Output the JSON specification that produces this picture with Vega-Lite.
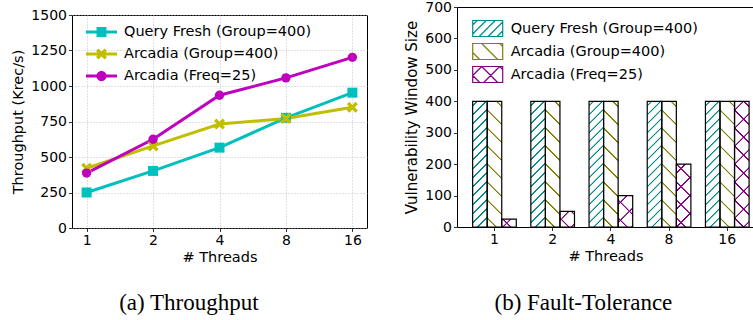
{
  "$schema": "https://vega.github.io/schema/vega-lite/v6.json",
  "padding": {"left": 10, "top": -1, "right": 0, "bottom": 0},
  "config": {
    "font": "DejaVu Sans",
    "view": {"stroke": "#000", "strokeWidth": 1},
    "axis": {"labelFont": "DejaVu Sans", "titleFont": "DejaVu Sans", "labelColor": "#000", "titleColor": "#000", "tickColor": "#000", "domainColor": "#000", "labelFontSize": 14, "titleFontSize": 14.5, "titleFontWeight": "normal", "tickSize": 3.5, "tickWidth": 0.8, "domain": false, "labelPadding": 2},
    "legend": {"labelFont": "DejaVu Sans", "labelFontSize": 14.5, "labelColor": "#000", "labelLimit": 400, "padding": 0, "rowPadding": 2}
  },
  "datasets": {
    "tp": [
      {"series": "Query Fresh (Group=400)", "threads": "1", "value": 250},
      {"series": "Query Fresh (Group=400)", "threads": "2", "value": 402},
      {"series": "Query Fresh (Group=400)", "threads": "4", "value": 566},
      {"series": "Query Fresh (Group=400)", "threads": "8", "value": 776},
      {"series": "Query Fresh (Group=400)", "threads": "16", "value": 953},
      {"series": "Arcadia (Group=400)", "threads": "1", "value": 421},
      {"series": "Arcadia (Group=400)", "threads": "2", "value": 578},
      {"series": "Arcadia (Group=400)", "threads": "4", "value": 732},
      {"series": "Arcadia (Group=400)", "threads": "8", "value": 771},
      {"series": "Arcadia (Group=400)", "threads": "16", "value": 850},
      {"series": "Arcadia (Freq=25)", "threads": "1", "value": 387},
      {"series": "Arcadia (Freq=25)", "threads": "2", "value": 625},
      {"series": "Arcadia (Freq=25)", "threads": "4", "value": 935},
      {"series": "Arcadia (Freq=25)", "threads": "8", "value": 1057},
      {"series": "Arcadia (Freq=25)", "threads": "16", "value": 1202}
    ],
    "vw": [
      {"series": "Query Fresh (Group=400)", "threads": "1", "value": 400},
      {"series": "Arcadia (Group=400)", "threads": "1", "value": 400},
      {"series": "Arcadia (Freq=25)", "threads": "1", "value": 25},
      {"series": "Query Fresh (Group=400)", "threads": "2", "value": 400},
      {"series": "Arcadia (Group=400)", "threads": "2", "value": 400},
      {"series": "Arcadia (Freq=25)", "threads": "2", "value": 50},
      {"series": "Query Fresh (Group=400)", "threads": "4", "value": 400},
      {"series": "Arcadia (Group=400)", "threads": "4", "value": 400},
      {"series": "Arcadia (Freq=25)", "threads": "4", "value": 100},
      {"series": "Query Fresh (Group=400)", "threads": "8", "value": 400},
      {"series": "Arcadia (Group=400)", "threads": "8", "value": 400},
      {"series": "Arcadia (Freq=25)", "threads": "8", "value": 200},
      {"series": "Query Fresh (Group=400)", "threads": "16", "value": 400},
      {"series": "Arcadia (Group=400)", "threads": "16", "value": 400},
      {"series": "Arcadia (Freq=25)", "threads": "16", "value": 400}
    ]
  },
  "columns": 2,
  "align": "none",
  "spacing": 36,
  "resolve": {"scale": {"color": "independent", "shape": "independent"}, "legend": {"color": "independent", "shape": "independent"}},
  "concat": [
    {
      "title": {"text": "(a) Throughput", "orient": "bottom", "anchor": "middle", "frame": "bounds", "font": "Liberation Serif", "fontSize": 23, "fontWeight": "normal", "color": "#000", "offset": 27},
      "spacing": -1,
      "vconcat": [
        {
          "width": 295,
          "height": 0.01,
          "view": {"stroke": null},
          "data": {"values": []},
          "mark": {"type": "point", "opacity": 0},
          "encoding": {}
        },
        {
          "width": 295,
          "height": 213,
          "data": {"name": "tp"},
          "encoding": {
            "x": {"field": "threads", "type": "nominal", "sort": ["1", "2", "4", "8", "16"], "scale": {"type": "point", "padding": 0.22}, "axis": {"title": "# Threads", "labelAngle": 0, "grid": true, "gridDash": [1, 2], "gridColor": "#b0b0b0", "gridWidth": 0.8, "titlePadding": 3}},
            "y": {"field": "value", "type": "quantitative", "scale": {"domain": [0, 1500], "nice": false}, "axis": {"title": "Throughput (Krec/s)", "format": "d", "values": [0, 250, 500, 750, 1000, 1250, 1500], "grid": true, "gridDash": [1, 2], "gridColor": "#b0b0b0", "gridWidth": 0.8, "titlePadding": 5}},
            "color": {"field": "series", "type": "nominal", "scale": {"domain": ["Query Fresh (Group=400)", "Arcadia (Group=400)", "Arcadia (Freq=25)"], "range": ["#00bfbf", "#bfbf00", "#bf00bf"]},
              "legend": {"title": null, "orient": "none", "legendX": 14, "legendY": 9.5, "labelOffset": 7, "rowPadding": -2, "symbolSize": 961, "symbolStrokeWidth": 0, "symbolOpacity": 1}}
          },
          "layer": [
            {"transform": [{"filter": "false"}],
             "mark": {"type": "point", "filled": true, "opacity": 1, "size": 961, "strokeWidth": 0},
             "encoding": {
               "shape": {"field": "series", "type": "nominal", "scale": {"domain": ["Query Fresh (Group=400)", "Arcadia (Group=400)", "Arcadia (Freq=25)"], "range": [
                 "M-1,-0.097H1V0.097H-1Z M-0.32,-0.32H0.32V0.32H-0.32Z",
                 "M-1,-0.097H1V0.097H-1Z M-0.2,0.355L-0.355,0.2L-0.155,0L-0.355,-0.2L-0.2,-0.355L0,-0.155L0.2,-0.355L0.355,-0.2L0.155,0L0.355,0.2L0.2,0.355L0,0.155Z",
                 "M-1,-0.097H1V0.097H-1Z M-0.33,0A0.33,0.33,0,1,1,0.33,0A0.33,0.33,0,1,1,-0.33,0Z"]},
                 "legend": {"title": null, "orient": "none", "legendX": 14, "legendY": 9.5, "labelOffset": 7, "rowPadding": -2, "symbolSize": 961, "symbolStrokeWidth": 0, "symbolOpacity": 1}}
             }},
            {"mark": {"type": "line", "strokeWidth": 3}},
            {"transform": [{"filter": "datum.series == 'Query Fresh (Group=400)'"}],
             "mark": {"type": "point", "filled": true, "opacity": 1, "shape": "square", "size": 100}},
            {"transform": [{"filter": "datum.series == 'Arcadia (Group=400)'"}],
             "mark": {"type": "point", "filled": true, "opacity": 1, "size": 148, "shape": "M-0.509,0.905L0,0.396L0.509,0.905L0.905,0.509L0.396,0L0.905,-0.509L0.509,-0.905L0,-0.396L-0.509,-0.905L-0.905,-0.509L-0.396,0L-0.905,0.509Z"}},
            {"transform": [{"filter": "datum.series == 'Arcadia (Freq=25)'"}],
             "mark": {"type": "point", "filled": true, "opacity": 1, "shape": "circle", "size": 87}}
          ]
        }
      ]
    },
    {
      "width": 297,
      "height": 220,
      "title": {"text": "(b) Fault-Tolerance", "orient": "bottom", "anchor": "middle", "frame": "bounds", "font": "Liberation Serif", "fontSize": 23, "fontWeight": "normal", "color": "#000", "offset": 29, "dx": 4},
      "data": {"name": "vw"},
      "encoding": {
        "x": {"field": "threads", "type": "nominal", "sort": ["1", "2", "4", "8", "16"], "scale": {"type": "band", "paddingInner": 0.25, "paddingOuter": 0.1766, "align": 0.761, "round": false}, "axis": {"title": "# Threads", "labelAngle": 0, "grid": false, "titlePadding": 3}},
        "xOffset": {"field": "series", "type": "nominal", "sort": ["Query Fresh (Group=400)", "Arcadia (Group=400)", "Arcadia (Freq=25)"], "scale": {"paddingInner": 0, "paddingOuter": 0}},
        "y": {"field": "value", "type": "quantitative", "scale": {"domain": [0, 700], "nice": false}, "axis": {"title": "Vulnerability Window Size", "values": [0, 100, 200, 300, 400, 500, 600, 700], "grid": false, "titleFontSize": 15, "titlePadding": 5}}
      },
      "layer": [
        {"mark": {"type": "bar", "fill": "#fff", "strokeWidth": 0}},
        {"transform": [{"filter": "datum.series == 'Query Fresh (Group=400)'"}],
         "mark": {"type": "bar", "strokeWidth": 0, "fill": {"gradient": "linear", "x1": 0, "y1": 0, "x2": 0.12743, "y2": 1.10097, "stops": [
           {"offset": 0.02210, "color": "rgba(255,255,255,0)"}, {"offset": 0.02781, "color": "#008b8b"}, {"offset": 0.03636, "color": "#008b8b"}, {"offset": 0.04206, "color": "rgba(255,255,255,0)"},
           {"offset": 0.08627, "color": "rgba(255,255,255,0)"}, {"offset": 0.09197, "color": "#008b8b"}, {"offset": 0.10053, "color": "#008b8b"}, {"offset": 0.10623, "color": "rgba(255,255,255,0)"},
           {"offset": 0.15043, "color": "rgba(255,255,255,0)"}, {"offset": 0.15614, "color": "#008b8b"}, {"offset": 0.16469, "color": "#008b8b"}, {"offset": 0.17040, "color": "rgba(255,255,255,0)"},
           {"offset": 0.21460, "color": "rgba(255,255,255,0)"}, {"offset": 0.22030, "color": "#008b8b"}, {"offset": 0.22886, "color": "#008b8b"}, {"offset": 0.23456, "color": "rgba(255,255,255,0)"},
           {"offset": 0.27877, "color": "rgba(255,255,255,0)"}, {"offset": 0.28447, "color": "#008b8b"}, {"offset": 0.29303, "color": "#008b8b"}, {"offset": 0.29873, "color": "rgba(255,255,255,0)"},
           {"offset": 0.34293, "color": "rgba(255,255,255,0)"}, {"offset": 0.34864, "color": "#008b8b"}, {"offset": 0.35719, "color": "#008b8b"}, {"offset": 0.36290, "color": "rgba(255,255,255,0)"},
           {"offset": 0.40710, "color": "rgba(255,255,255,0)"}, {"offset": 0.41280, "color": "#008b8b"}, {"offset": 0.42136, "color": "#008b8b"}, {"offset": 0.42706, "color": "rgba(255,255,255,0)"},
           {"offset": 0.47127, "color": "rgba(255,255,255,0)"}, {"offset": 0.47697, "color": "#008b8b"}, {"offset": 0.48553, "color": "#008b8b"}, {"offset": 0.49123, "color": "rgba(255,255,255,0)"},
           {"offset": 0.53543, "color": "rgba(255,255,255,0)"}, {"offset": 0.54114, "color": "#008b8b"}, {"offset": 0.54969, "color": "#008b8b"}, {"offset": 0.55540, "color": "rgba(255,255,255,0)"},
           {"offset": 0.59960, "color": "rgba(255,255,255,0)"}, {"offset": 0.60530, "color": "#008b8b"}, {"offset": 0.61386, "color": "#008b8b"}, {"offset": 0.61956, "color": "rgba(255,255,255,0)"},
           {"offset": 0.66377, "color": "rgba(255,255,255,0)"}, {"offset": 0.66947, "color": "#008b8b"}, {"offset": 0.67803, "color": "#008b8b"}, {"offset": 0.68373, "color": "rgba(255,255,255,0)"},
           {"offset": 0.72793, "color": "rgba(255,255,255,0)"}, {"offset": 0.73364, "color": "#008b8b"}, {"offset": 0.74219, "color": "#008b8b"}, {"offset": 0.74790, "color": "rgba(255,255,255,0)"},
           {"offset": 0.79210, "color": "rgba(255,255,255,0)"}, {"offset": 0.79780, "color": "#008b8b"}, {"offset": 0.80636, "color": "#008b8b"}, {"offset": 0.81206, "color": "rgba(255,255,255,0)"},
           {"offset": 0.85627, "color": "rgba(255,255,255,0)"}, {"offset": 0.86197, "color": "#008b8b"}, {"offset": 0.87053, "color": "#008b8b"}, {"offset": 0.87623, "color": "rgba(255,255,255,0)"},
           {"offset": 0.92043, "color": "rgba(255,255,255,0)"}, {"offset": 0.92614, "color": "#008b8b"}, {"offset": 0.93469, "color": "#008b8b"}, {"offset": 0.94039, "color": "rgba(255,255,255,0)"},
           {"offset": 0.98460, "color": "rgba(255,255,255,0)"}, {"offset": 0.99030, "color": "#008b8b"}, {"offset": 1, "color": "#008b8b"}
         ]}}},
        {"transform": [{"filter": "datum.series == 'Arcadia (Group=400)'"}],
         "mark": {"type": "bar", "strokeWidth": 0, "fill": {"gradient": "linear", "x1": 0, "y1": 1, "x2": 0.12743, "y2": -0.10097, "stops": [
           {"offset": 0.05418, "color": "rgba(255,255,255,0)"}, {"offset": 0.05989, "color": "#808000"}, {"offset": 0.06844, "color": "#808000"}, {"offset": 0.07415, "color": "rgba(255,255,255,0)"},
           {"offset": 0.18252, "color": "rgba(255,255,255,0)"}, {"offset": 0.18822, "color": "#808000"}, {"offset": 0.19678, "color": "#808000"}, {"offset": 0.20248, "color": "rgba(255,255,255,0)"},
           {"offset": 0.31085, "color": "rgba(255,255,255,0)"}, {"offset": 0.31655, "color": "#808000"}, {"offset": 0.32511, "color": "#808000"}, {"offset": 0.33081, "color": "rgba(255,255,255,0)"},
           {"offset": 0.43918, "color": "rgba(255,255,255,0)"}, {"offset": 0.44489, "color": "#808000"}, {"offset": 0.45344, "color": "#808000"}, {"offset": 0.45915, "color": "rgba(255,255,255,0)"},
           {"offset": 0.56752, "color": "rgba(255,255,255,0)"}, {"offset": 0.57322, "color": "#808000"}, {"offset": 0.58178, "color": "#808000"}, {"offset": 0.58748, "color": "rgba(255,255,255,0)"},
           {"offset": 0.69585, "color": "rgba(255,255,255,0)"}, {"offset": 0.70155, "color": "#808000"}, {"offset": 0.71011, "color": "#808000"}, {"offset": 0.71581, "color": "rgba(255,255,255,0)"},
           {"offset": 0.82418, "color": "rgba(255,255,255,0)"}, {"offset": 0.82989, "color": "#808000"}, {"offset": 0.83844, "color": "#808000"}, {"offset": 0.84415, "color": "rgba(255,255,255,0)"},
           {"offset": 0.95251, "color": "rgba(255,255,255,0)"}, {"offset": 0.95822, "color": "#808000"}, {"offset": 0.96677, "color": "#808000"}, {"offset": 0.97248, "color": "rgba(255,255,255,0)"}
         ]}}},
        {"transform": [{"filter": "datum.series == 'Arcadia (Freq=25)' && datum.threads == '16'"}],
         "mark": {"type": "bar", "strokeWidth": 0, "fill": {"gradient": "linear", "x1": 0, "y1": 0, "x2": 0.12743, "y2": 1.10097, "stops": [
           {"offset": 0.05418, "color": "rgba(255,255,255,0)"}, {"offset": 0.05989, "color": "#800080"}, {"offset": 0.06844, "color": "#800080"}, {"offset": 0.07415, "color": "rgba(255,255,255,0)"},
           {"offset": 0.18252, "color": "rgba(255,255,255,0)"}, {"offset": 0.18822, "color": "#800080"}, {"offset": 0.19678, "color": "#800080"}, {"offset": 0.20248, "color": "rgba(255,255,255,0)"},
           {"offset": 0.31085, "color": "rgba(255,255,255,0)"}, {"offset": 0.31655, "color": "#800080"}, {"offset": 0.32511, "color": "#800080"}, {"offset": 0.33081, "color": "rgba(255,255,255,0)"},
           {"offset": 0.43918, "color": "rgba(255,255,255,0)"}, {"offset": 0.44489, "color": "#800080"}, {"offset": 0.45344, "color": "#800080"}, {"offset": 0.45915, "color": "rgba(255,255,255,0)"},
           {"offset": 0.56752, "color": "rgba(255,255,255,0)"}, {"offset": 0.57322, "color": "#800080"}, {"offset": 0.58178, "color": "#800080"}, {"offset": 0.58748, "color": "rgba(255,255,255,0)"},
           {"offset": 0.69585, "color": "rgba(255,255,255,0)"}, {"offset": 0.70155, "color": "#800080"}, {"offset": 0.71011, "color": "#800080"}, {"offset": 0.71581, "color": "rgba(255,255,255,0)"},
           {"offset": 0.82418, "color": "rgba(255,255,255,0)"}, {"offset": 0.82989, "color": "#800080"}, {"offset": 0.83844, "color": "#800080"}, {"offset": 0.84415, "color": "rgba(255,255,255,0)"},
           {"offset": 0.95251, "color": "rgba(255,255,255,0)"}, {"offset": 0.95822, "color": "#800080"}, {"offset": 0.96677, "color": "#800080"}, {"offset": 0.97248, "color": "rgba(255,255,255,0)"}
         ]}}},
        {"transform": [{"filter": "datum.series == 'Arcadia (Freq=25)' && datum.threads == '16'"}],
         "mark": {"type": "bar", "strokeWidth": 0, "fill": {"gradient": "linear", "x1": 0, "y1": 1, "x2": 0.12743, "y2": -0.10097, "stops": [
           {"offset": 0.05418, "color": "rgba(255,255,255,0)"}, {"offset": 0.05989, "color": "#800080"}, {"offset": 0.06844, "color": "#800080"}, {"offset": 0.07415, "color": "rgba(255,255,255,0)"},
           {"offset": 0.18252, "color": "rgba(255,255,255,0)"}, {"offset": 0.18822, "color": "#800080"}, {"offset": 0.19678, "color": "#800080"}, {"offset": 0.20248, "color": "rgba(255,255,255,0)"},
           {"offset": 0.31085, "color": "rgba(255,255,255,0)"}, {"offset": 0.31655, "color": "#800080"}, {"offset": 0.32511, "color": "#800080"}, {"offset": 0.33081, "color": "rgba(255,255,255,0)"},
           {"offset": 0.43918, "color": "rgba(255,255,255,0)"}, {"offset": 0.44489, "color": "#800080"}, {"offset": 0.45344, "color": "#800080"}, {"offset": 0.45915, "color": "rgba(255,255,255,0)"},
           {"offset": 0.56752, "color": "rgba(255,255,255,0)"}, {"offset": 0.57322, "color": "#800080"}, {"offset": 0.58178, "color": "#800080"}, {"offset": 0.58748, "color": "rgba(255,255,255,0)"},
           {"offset": 0.69585, "color": "rgba(255,255,255,0)"}, {"offset": 0.70155, "color": "#800080"}, {"offset": 0.71011, "color": "#800080"}, {"offset": 0.71581, "color": "rgba(255,255,255,0)"},
           {"offset": 0.82418, "color": "rgba(255,255,255,0)"}, {"offset": 0.82989, "color": "#800080"}, {"offset": 0.83844, "color": "#800080"}, {"offset": 0.84415, "color": "rgba(255,255,255,0)"},
           {"offset": 0.95251, "color": "rgba(255,255,255,0)"}, {"offset": 0.95822, "color": "#800080"}, {"offset": 0.96677, "color": "#800080"}, {"offset": 0.97248, "color": "rgba(255,255,255,0)"}
         ]}}},
        {"transform": [{"filter": "datum.series == 'Arcadia (Freq=25)' && datum.threads == '8'"}],
         "mark": {"type": "bar", "strokeWidth": 0, "fill": {"gradient": "linear", "x1": 0, "y1": 0, "x2": 0.27054, "y2": 1.16882, "stops": [
           {"offset": 0.09818, "color": "rgba(255,255,255,0)"}, {"offset": 0.10851, "color": "#800080"}, {"offset": 0.12401, "color": "#800080"}, {"offset": 0.13435, "color": "rgba(255,255,255,0)"},
           {"offset": 0.33070, "color": "rgba(255,255,255,0)"}, {"offset": 0.34104, "color": "#800080"}, {"offset": 0.35654, "color": "#800080"}, {"offset": 0.36687, "color": "rgba(255,255,255,0)"},
           {"offset": 0.56323, "color": "rgba(255,255,255,0)"}, {"offset": 0.57356, "color": "#800080"}, {"offset": 0.58906, "color": "#800080"}, {"offset": 0.59940, "color": "rgba(255,255,255,0)"},
           {"offset": 0.79575, "color": "rgba(255,255,255,0)"}, {"offset": 0.80609, "color": "#800080"}, {"offset": 0.82159, "color": "#800080"}, {"offset": 0.83193, "color": "rgba(255,255,255,0)"}
         ]}}},
        {"transform": [{"filter": "datum.series == 'Arcadia (Freq=25)' && datum.threads == '8'"}],
         "mark": {"type": "bar", "strokeWidth": 0, "fill": {"gradient": "linear", "x1": 0, "y1": 1, "x2": 0.27054, "y2": -0.16882, "stops": [
           {"offset": 0.09818, "color": "rgba(255,255,255,0)"}, {"offset": 0.10851, "color": "#800080"}, {"offset": 0.12401, "color": "#800080"}, {"offset": 0.13435, "color": "rgba(255,255,255,0)"},
           {"offset": 0.33070, "color": "rgba(255,255,255,0)"}, {"offset": 0.34104, "color": "#800080"}, {"offset": 0.35654, "color": "#800080"}, {"offset": 0.36687, "color": "rgba(255,255,255,0)"},
           {"offset": 0.56323, "color": "rgba(255,255,255,0)"}, {"offset": 0.57356, "color": "#800080"}, {"offset": 0.58906, "color": "#800080"}, {"offset": 0.59940, "color": "rgba(255,255,255,0)"},
           {"offset": 0.79575, "color": "rgba(255,255,255,0)"}, {"offset": 0.80609, "color": "#800080"}, {"offset": 0.82159, "color": "#800080"}, {"offset": 0.83193, "color": "rgba(255,255,255,0)"}
         ]}}},
        {"transform": [{"filter": "datum.series == 'Arcadia (Freq=25)' && datum.threads == '4'"}],
         "mark": {"type": "bar", "strokeWidth": 0, "fill": {"gradient": "linear", "x1": 0, "y1": 0, "x2": 0.55774, "y2": 1.20480, "stops": [
           {"offset": 0.16529, "color": "rgba(255,255,255,0)"}, {"offset": 0.18269, "color": "#800080"}, {"offset": 0.20879, "color": "#800080"}, {"offset": 0.22619, "color": "rgba(255,255,255,0)"},
           {"offset": 0.55677, "color": "rgba(255,255,255,0)"}, {"offset": 0.57417, "color": "#800080"}, {"offset": 0.60027, "color": "#800080"}, {"offset": 0.61767, "color": "rgba(255,255,255,0)"},
           {"offset": 0.94824, "color": "rgba(255,255,255,0)"}, {"offset": 0.96564, "color": "#800080"}, {"offset": 1, "color": "#800080"}
         ]}}},
        {"transform": [{"filter": "datum.series == 'Arcadia (Freq=25)' && datum.threads == '4'"}],
         "mark": {"type": "bar", "strokeWidth": 0, "fill": {"gradient": "linear", "x1": 0, "y1": 1, "x2": 0.55774, "y2": -0.20480, "stops": [
           {"offset": 0.16529, "color": "rgba(255,255,255,0)"}, {"offset": 0.18269, "color": "#800080"}, {"offset": 0.20879, "color": "#800080"}, {"offset": 0.22619, "color": "rgba(255,255,255,0)"},
           {"offset": 0.55677, "color": "rgba(255,255,255,0)"}, {"offset": 0.57417, "color": "#800080"}, {"offset": 0.60027, "color": "#800080"}, {"offset": 0.61767, "color": "rgba(255,255,255,0)"},
           {"offset": 0.94824, "color": "rgba(255,255,255,0)"}, {"offset": 0.96564, "color": "#800080"}, {"offset": 1, "color": "#800080"}
         ]}}},
        {"transform": [{"filter": "datum.series == 'Arcadia (Freq=25)' && datum.threads == '2'"}],
         "mark": {"type": "bar", "strokeWidth": 0, "fill": {"gradient": "linear", "x1": 0, "y1": 0, "x2": 0.96027, "y2": 1.03683, "stops": [
           {"offset": 0.25116, "color": "rgba(255,255,255,0)"}, {"offset": 0.27759, "color": "#800080"}, {"offset": 0.31725, "color": "#800080"}, {"offset": 0.34369, "color": "rgba(255,255,255,0)"},
           {"offset": 0.84600, "color": "rgba(255,255,255,0)"}, {"offset": 0.87244, "color": "#800080"}, {"offset": 0.91210, "color": "#800080"}, {"offset": 0.93853, "color": "rgba(255,255,255,0)"}
         ]}}},
        {"transform": [{"filter": "datum.series == 'Arcadia (Freq=25)' && datum.threads == '2'"}],
         "mark": {"type": "bar", "strokeWidth": 0, "fill": {"gradient": "linear", "x1": 0, "y1": 1, "x2": 0.96027, "y2": -0.03683, "stops": [
           {"offset": 0.25116, "color": "rgba(255,255,255,0)"}, {"offset": 0.27759, "color": "#800080"}, {"offset": 0.31725, "color": "#800080"}, {"offset": 0.34369, "color": "rgba(255,255,255,0)"},
           {"offset": 0.84600, "color": "rgba(255,255,255,0)"}, {"offset": 0.87244, "color": "#800080"}, {"offset": 0.91210, "color": "#800080"}, {"offset": 0.93853, "color": "rgba(255,255,255,0)"}
         ]}}},
        {"transform": [{"filter": "datum.series == 'Arcadia (Freq=25)' && datum.threads == '1'"}],
         "mark": {"type": "bar", "strokeWidth": 0, "fill": {"gradient": "linear", "x1": 0, "y1": 0, "x2": 1.19235, "y2": 0.64387, "stops": [
           {"offset": 0.33918, "color": "rgba(255,255,255,0)"}, {"offset": 0.37488, "color": "#800080"}, {"offset": 0.42844, "color": "#800080"}, {"offset": 0.46414, "color": "rgba(255,255,255,0)"}
         ]}}},
        {"transform": [{"filter": "datum.series == 'Arcadia (Freq=25)' && datum.threads == '1'"}],
         "mark": {"type": "bar", "strokeWidth": 0, "fill": {"gradient": "linear", "x1": 0, "y1": 1, "x2": 1.19235, "y2": 0.35613, "stops": [
           {"offset": 0.33918, "color": "rgba(255,255,255,0)"}, {"offset": 0.37488, "color": "#800080"}, {"offset": 0.42844, "color": "#800080"}, {"offset": 0.46414, "color": "rgba(255,255,255,0)"}
         ]}}},
        {"mark": {"type": "bar", "fill": "transparent", "stroke": "#000", "strokeWidth": 1.2}},
        {"transform": [{"filter": "false"}],
         "mark": {"type": "point", "filled": false, "opacity": 1, "strokeWidth": 1.2, "size": 225},
         "encoding": {
           "color": {"field": "series", "type": "nominal", "scale": {"domain": ["Query Fresh (Group=400)", "Arcadia (Group=400)", "Arcadia (Freq=25)"], "range": ["#008b8b", "#808000", "#800080"]},
             "legend": {"title": null, "orient": "none", "legendX": 22.2, "legendY": 13, "labelOffset": 14.5, "symbolSize": 225, "symbolStrokeWidth": 1.2, "symbolOpacity": 1, "symbolFillColor": "#fff"}},
           "shape": {"field": "series", "type": "nominal", "scale": {"domain": ["Query Fresh (Group=400)", "Arcadia (Group=400)", "Arcadia (Freq=25)"], "range": [
             "M-2,-1.067H2V1.067H-2Z M-2,-0.467L-1.4,-1.067 M-2,0.733L-0.2,-1.067 M-1.133,1.067L1,-1.067 M0.067,1.067L2,-0.867 M1.267,1.067L2,0.333",
             "M-2,-1.067H2V1.067H-2Z M-2,0.133L-1.067,1.067 M-0.8,-1.067L1.333,1.067 M1.6,-1.067L2,-0.667",
             "M-2,-1.067H2V1.067H-2Z M-2,0.133L-0.8,-1.067 M-0.533,1.067L1.6,-1.067 M-2,0.133L-1.067,1.067 M-0.8,-1.067L1.333,1.067 M1.6,-1.067L2,-0.667"]},
             "legend": {"title": null, "orient": "none", "legendX": 22.2, "legendY": 13, "labelOffset": 14.5, "symbolSize": 225, "symbolStrokeWidth": 1.2, "symbolOpacity": 1, "symbolFillColor": "#fff"}}
         }}
      ]
    }
  ]
}
